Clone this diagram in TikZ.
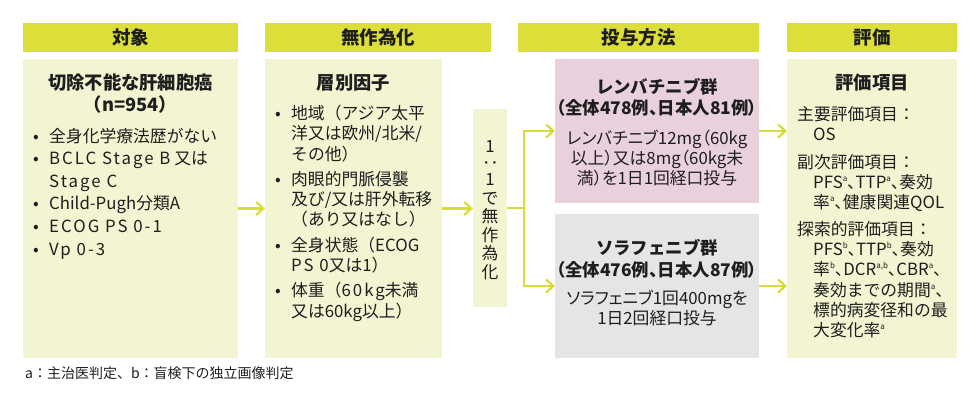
\documentclass[tikz,border=0pt]{standalone}
\usepackage{fontspec}
\setmainfont{Noto Sans CJK JP}
\newfontfamily\trk{Noto Sans CJK JP}[LetterSpace=12]
\newfontfamily\prop{Noto Sans CJK JP}[RawFeature=+palt]
\usetikzlibrary{arrows.meta}
\definecolor{hdr}{RGB}{220,223,58}
\definecolor{lite}{RGB}{243,245,210}
\definecolor{pinkc}{RGB}{233,208,221}
\definecolor{grayc}{RGB}{229,229,229}
\definecolor{arrc}{RGB}{214,221,58}
\definecolor{txt}{RGB}{30,30,30}
\newcommand{\bul}{\makebox[16pt][l]{•}}
\newcommand{\sups}[1]{\raisebox{0.42em}{\fontsize{8}{8}\selectfont #1}}
\begin{document}
\begin{tikzpicture}[x=1pt,y=-1pt,
  every node/.style={text=txt, inner sep=0pt},
  hdrbox/.style={fill=hdr, minimum height=29pt, font=\bfseries\fontsize{18.5}{20}\selectfont},
  panel/.style={fill=lite, minimum height=299pt},
  grp/.style={minimum width=204pt, minimum height=144pt},
  ttl/.style={font=\bfseries\fontsize{17.4}{21.5}\selectfont, align=center},
  body/.style={font=\fontsize{16.8}{20}\selectfont, align=left, anchor=north west},
  arr/.style={draw=arrc, line width=2.2pt, line join=miter, -{Straight Barb[length=7pt,width=13pt]}},
  conn/.style={draw=arrc, line width=2.2pt}]
\useasboundingbox (0,0) rectangle (980,403);
% headers
\node[hdrbox, minimum width=215pt] (h1) at (130.5,37.5) {対象};
\node[hdrbox, minimum width=226pt] (h2) at (378,37.5) {無作為化};
\node[hdrbox, minimum width=241pt] (h3) at (638.5,37.5) {投与方法};
\node[hdrbox, minimum width=170pt] (h4) at (872,37.5) {評価};
% panels
\node[panel, minimum width=215pt] (b1) at (130.5,208.5) {};
\node[panel, minimum width=177pt] (b2) at (353.5,208.5) {};
\node[fill=lite, minimum width=34pt, minimum height=198pt] (r) at (490,208) {};
\node[grp, fill=pinkc] (lv) at (657,131) {};
\node[grp, fill=grayc] (sf) at (657,286) {};
\node[panel, minimum width=170pt] (b4) at (872,208.5) {};
% panel 1 text
\node[ttl, font=\bfseries\fontsize{18.3}{22}\selectfont] (t1) at (130.5,94) {切除不能な肝細胞癌\\（n=954）};
\node[body, font=\fontsize{16.8}{22.6}\selectfont] (l1) at (33,126) {%
\begin{tabular}{@{}l@{}}
\bul 全身化学療法歴がない\\
\bul {\trk BCLC Stage B} 又は\\
\hspace{16pt}{\trk Stage C}\\
\bul Child-Pugh分類A\\
\bul {\trk ECOG PS 0-1}\\
\bul {\trk Vp 0-3}
\end{tabular}};
% panel 2 text
\node[ttl, font=\bfseries\fontsize{18.3}{22}\selectfont] (t2) at (353.5,83) {層別因子};
\node[body] (l2) at (275,105) {%
\begin{tabular}{@{}l@{}}
\bul 地域（アジア太平\\
\hspace{16pt}洋又は欧州/北米/\\
\hspace{16pt}その他）\\[5pt]
\bul 肉眼的門脈侵襲\\
\hspace{16pt}及び/又は肝外転移\\
\hspace{16pt}（あり又はなし）\\[5pt]
\bul 全身状態（ECOG\\
\hspace{16pt}{\trk PS 0}又は1）\\[5pt]
\bul 体重（{\trk 60kg}未満\\
\hspace{16pt}又は60kg以上）
\end{tabular}};
% randomisation text
\node[font=\fontsize{16.8}{18.5}\selectfont, align=center] (rt) at (490,210) {1\\[-2pt]\rotatebox[origin=c]{-90}{：}\\[-2pt]1\\で\\無\\作\\為\\化};
% lenvatinib
\node[ttl] (lt) at (657,97.5) {レンバチニブ群\\{\prop （全体478例、日本人81例）}};
\node[font=\fontsize{16.8}{20}\selectfont, align=center] (lb) at (657,158) {{\prop レンバチニブ12mg（60kg}\\{\prop 以上）又は8mg（60kg未}\\{\prop 満）を1日1回経口投与}};
% sorafenib
\node[ttl] (st) at (657,259) {ソラフェニブ群\\{\prop （全体476例、日本人87例）}};
\node[font=\fontsize{16.8}{20}\selectfont, align=center] (sb) at (657,308) {{\prop ソラフェニブ1回400mgを}\\1日2回経口投与};
% evaluation
\node[ttl, font=\bfseries\fontsize{18.3}{22}\selectfont] (t4) at (872,83) {評価項目};
\node[body] (l4) at (797,106) {%
\begin{tabular}{@{}l@{}}
主要評価項目：\\
\hspace{16pt}OS\\[8pt]
副次評価項目：\\
\hspace{16pt}{\prop PFS\sups{a}、TTP\sups{a}、奏効}\\
\hspace{16pt}{\prop 率\sups{a}、健康関連QOL}\\[7pt]
探索的評価項目：\\
\hspace{16pt}{\prop PFS\sups{b}、TTP\sups{b}、奏効}\\
\hspace{16pt}{\prop 率\sups{b}、DCR\sups{a,b}、CBR\sups{a}、}\\
\hspace{16pt}奏効までの期間\sups{a}、\\
\hspace{16pt}標的病変径和の最\\
\hspace{16pt}大変化率\sups{a}
\end{tabular}};
% footnote
\node[font=\fontsize{14}{16}\selectfont, anchor=west] (fn) at (25,373) {a：主治医判定、b：盲検下の独立画像判定};
% connectors
\draw[arr] (b1.east) -- (b2.west);
\draw[arr] (b2.east) -- (b2.east -| r.west);
\coordinate (sp) at (524,208);
\draw[conn] (r.east) -- (sp);
\draw[arr] (sp) |- (lv.west);
\draw[arr] (sp) |- (sf.west);
\draw[arr] (lv.east) -- (lv.east -| b4.west);
\draw[arr] (sf.east) -- (sf.east -| b4.west);
\end{tikzpicture}
\end{document}
